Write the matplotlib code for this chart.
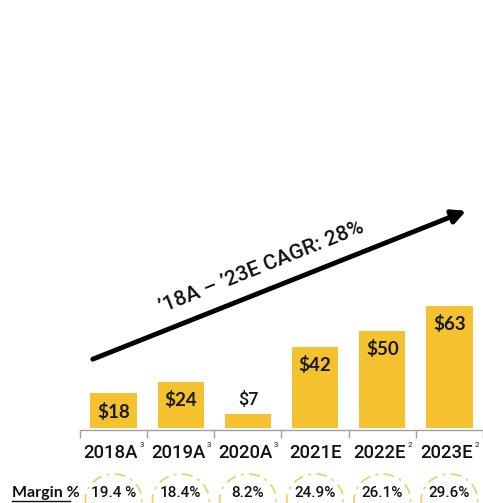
import matplotlib
matplotlib.use("Agg")
import matplotlib.pyplot as plt
from matplotlib.patches import Ellipse
import numpy as np

plt.rcParams['font.family'] = ['Lato', 'DejaVu Sans']

years = ["2018A", "2019A", "2020A", "2021E", "2022E", "2023E"]
year_notes = ["3", "3", "3", "", "2", "2"]
revenue = [18, 24, 7, 42, 50, 63]
value_labels = ["$18", "$24", "$7", "$42", "$50", "$63"]
margins = ["19.4 %", "18.4%", "8.2%", "24.9%", "26.1%", "29.6%"]
cagr_text = "’18A – ’23E CAGR: 28%"

bar_color = "#F4C22F"
ring_color = "#F0D06E"
mid_font = ['Roboto', 'DejaVu Sans']

W, H = 483, 503
fig = plt.figure(figsize=(W / 100, H / 100), dpi=100)
# axes: left edge at 80px, baseline at 430px from top, up to top of figure
ax = fig.add_axes([80 / W, 73 / H, 403 / W, 430 / H])
ax.set_xlim(-0.5, 5.5)
px_per_unit = 1.94
ax.set_ylim(-1.0, -1.0 + 430 / px_per_unit)

x = np.arange(len(years))
bars = ax.bar(x, revenue, width=0.69, color=bar_color, bottom=0, zorder=2)

for xi, v, lab in zip(x, revenue, value_labels):
    if v < 15:
        ax.text(xi, v + 3, lab, ha='center', va='bottom', fontsize=13,
                family=mid_font, fontweight='medium', color='#1a1a1a')
    else:
        ax.text(xi, v - 9.5, lab, ha='center', va='center', fontsize=13.5,
                fontweight='bold', color='#1a1a1a')

for s in ['top', 'right', 'left']:
    ax.spines[s].set_visible(False)
ax.spines['bottom'].set_color('#a0a0a0')
ax.spines['bottom'].set_linewidth(1.0)
ax.set_yticks([])
ax.set_xticks([])
ax.set_xticks(np.arange(-0.5, 5.6, 1.0), minor=True)
ax.tick_params(axis='x', which='minor', length=6, width=1.0, color='#a0a0a0')

# year labels with small footnote marks
xtr = ax.get_xaxis_transform()
for xi, yr, note in zip(x, years, year_notes):
    t = ax.text(xi - 0.04 * bool(note), -28 / 430, yr, transform=xtr,
                ha='center', va='baseline', fontsize=13.3, family=mid_font,
                fontweight='medium', color='#111111')
    if note:
        ax.annotate(note, xy=(1, 1), xycoords=t, xytext=(1, 1.5),
                    textcoords='offset points', ha='left', va='top',
                    fontsize=5.5, family=mid_font, color='#111111')

# CAGR arrow across the bars
ax.annotate("", xy=(5.25, 112.0), xytext=(-0.31, 35.5),
            arrowprops=dict(arrowstyle="-|>,head_length=0.8,head_width=0.4",
                            lw=3.5, color='black', shrinkA=0, shrinkB=0),
            zorder=3)
ax.text(2.2, 83, cagr_text, rotation=21.8, rotation_mode='anchor',
        ha='center', va='center', fontsize=15.2, family=mid_font,
        fontweight='medium', color='#111111')

# margin row with dashed rings
fig.text(12 / W, 1 - 493 / H, "Margin %", ha='left', va='center',
         fontsize=11.5, fontweight='bold', color='#111111')
fig.add_artist(plt.Line2D([12 / W, 70 / W], [1 - 501 / H, 1 - 501 / H],
                          color='#111111', lw=1.0))
ring_y = -1.0 - (500 - 430) / px_per_unit
for xi, m in zip(x, margins):
    ax.add_patch(Ellipse((xi, ring_y), 0.84, 52 / px_per_unit, fill=False,
                         edgecolor=ring_color, lw=1.3, linestyle=(0, (6, 3, 1.5, 3)),
                         clip_on=False))
    ax.text(xi, -1.0 - (493 - 430) / px_per_unit, m, ha='center', va='center',
            fontsize=11, family=mid_font, fontweight='medium', color='#111111',
            clip_on=False)

fig.savefig("out.png", dpi=100)
